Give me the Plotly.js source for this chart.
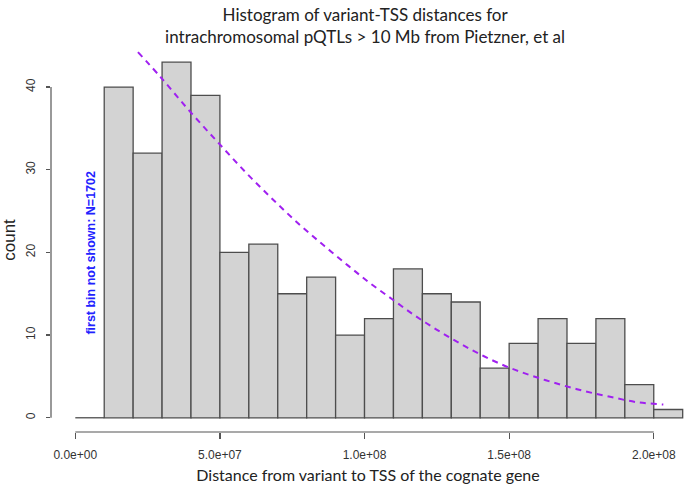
<!DOCTYPE html>
<html>
<head>
<meta charset="utf-8">
<script src="https://cdn.plot.ly/plotly-3.0.1.min.js"></script>
<style>html,body{margin:0;padding:0;background:#fff;}#chart{width:685px;height:487px;}</style>
</head>
<body>
<div id="chart"></div>
<script>
// Histogram bins (left edges, width 1e7) and counts
const binLeft = [0, 1e7, 2e7, 3e7, 4e7, 5e7, 6e7, 7e7, 8e7, 9e7, 1e8,
                 1.1e8, 1.2e8, 1.3e8, 1.4e8, 1.5e8, 1.6e8, 1.7e8, 1.8e8, 1.9e8, 2e8];
const binWidth = 1e7;
const counts = [0, 40, 32, 43, 39, 20, 21, 15, 17, 10, 12, 18, 15, 14, 6, 9, 12, 9, 12, 4, 1];

// Dashed purple fitted curve
const curveX = [2.166e7, 2.976e7, 3.931e7, 4.900e7, 5.893e7, 6.896e7, 7.820e7, 8.626e7, 9.433e7,
                10.18e7, 10.97e7, 11.74e7, 12.49e7, 13.30e7, 14.13e7, 14.97e7, 15.83e7, 16.76e7,
                17.62e7, 18.49e7, 19.41e7, 20.33e7];
const curveY = [44.23, 41.09, 37.17, 33.43, 29.68, 26.18, 23.15, 20.74, 18.40,
                16.31, 14.30, 12.36, 10.67, 8.98, 7.44, 6.11, 5.03, 4.03,
                3.21, 2.54, 1.89, 1.61];

const xTickVals = [0, 5e7, 1e8, 1.5e8, 2e8];
const xTickText = ['0.0e+00', '5.0e+07', '1.0e+08', '1.5e+08', '2.0e+08'];
const yTickVals = [0, 10, 20, 30, 40];

const titleText = 'Histogram of variant-TSS distances for<br>intrachromosomal pQTLs > 10 Mb from Pietzner, et al';
const xTitle = 'Distance from variant to TSS of the cognate gene';
const yTitle = 'count';
const noteText = 'first bin not shown: N=1702';

const shown = counts.map(c => c > 0);
const barX = binLeft.filter((b, i) => shown[i]).map(b => b + binWidth / 2);
const barY = counts.filter((c, i) => shown[i]);

const shapes = [];
// zero-count bins drawn as flat lines (R style)
binLeft.forEach((b, i) => {
  if (counts[i] === 0) {
    shapes.push({type: 'line', xref: 'x', yref: 'y', x0: b, x1: b + binWidth, y0: 0, y1: 0,
                 line: {color: '#4d4d4d', width: 1.3}});
  }
});
// R-style axis lines spanning only the tick range
shapes.push({type: 'line', xref: 'x', yref: 'paper', x0: xTickVals[0], x1: xTickVals[xTickVals.length - 1],
             y0: 0, y1: 0, line: {color: '#555', width: 1.2}});
shapes.push({type: 'line', xref: 'paper', yref: 'y', x0: 0, x1: 0,
             y0: yTickVals[0], y1: yTickVals[yTickVals.length - 1], line: {color: '#555', width: 1.2}});

const traces = [
  {
    type: 'bar', x: barX, y: barY, width: binWidth,
    marker: {color: '#d3d3d3', line: {color: '#4d4d4d', width: 1.3}},
    hoverinfo: 'x+y', showlegend: false
  },
  {
    type: 'scatter', mode: 'lines', x: curveX, y: curveY,
    line: {color: '#a020f0', width: 2, dash: '6px,5px', shape: 'spline'},
    showlegend: false
  }
];

const layout = {
  width: 685, height: 487,
  margin: {l: 51, r: 0, t: 48, b: 55},
  paper_bgcolor: '#fff', plot_bgcolor: '#fff',
  showlegend: false,
  bargap: 0,
  title: {
    text: titleText,
    font: {family: 'Lato, "Open Sans", sans-serif', size: 17, color: '#222'},
    xref: 'container', x: 0.533, xanchor: 'center',
    yref: 'container', y: 1 - 20.5 / 487, yanchor: 'middle'
  },
  xaxis: {
    range: [-0.84e7, 2.108e8],
    showgrid: false, zeroline: false, showline: false,
    tickmode: 'array', tickvals: xTickVals, ticktext: xTickText,
    ticks: 'outside', ticklen: 6, tickwidth: 1.2, tickcolor: '#555',
    ticklabelstandoff: 6,
    tickfont: {family: '"Liberation Sans", Arial, sans-serif', size: 12, color: '#333'},
    title: {text: xTitle, font: {family: 'Lato, "Open Sans", sans-serif', size: 16, color: '#222'}, standoff: 8},
    fixedrange: true
  },
  yaxis: {
    range: [-1.72, 44.72],
    showgrid: false, zeroline: false, showline: false,
    tickmode: 'array', tickvals: yTickVals, ticktext: yTickVals.map(String),
    ticks: 'outside', ticklen: 4, tickwidth: 1.2, tickcolor: '#555',
    tickangle: -90,
    ticklabelstandoff: 6,
    tickfont: {family: '"Liberation Sans", Arial, sans-serif', size: 12, color: '#333'},
    title: {text: yTitle, font: {family: '"Liberation Sans", Arial, sans-serif', size: 17, color: '#222'}, standoff: 6},
    fixedrange: true
  },
  shapes: shapes,
  annotations: [
    {
      text: noteText, xref: 'x', yref: 'y', x: 0.55e7, y: 20,
      showarrow: false, textangle: -90,
      font: {family: '"Liberation Sans", Arial, sans-serif', size: 12.5, color: '#2222ff', weight: 'bold'},
      xanchor: 'center', yanchor: 'middle'
    }
  ]
};

Plotly.newPlot('chart', traces, layout, {displayModeBar: false, staticPlot: true});
</script>
</body>
</html>
